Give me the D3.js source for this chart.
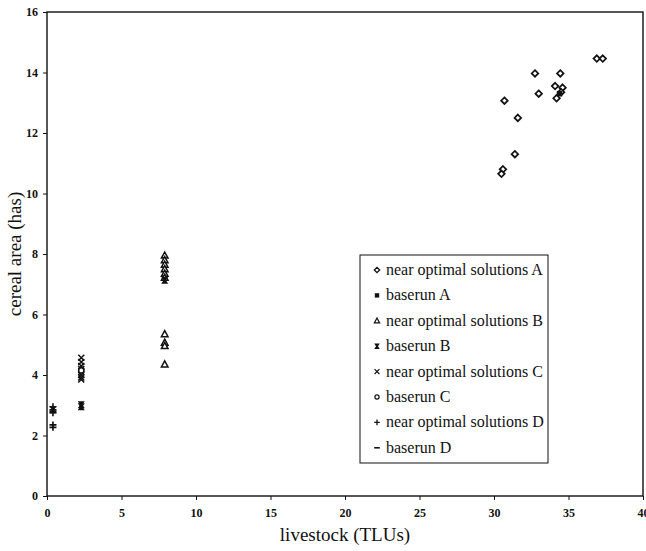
<!DOCTYPE html>
<html>
<head>
<meta charset="utf-8">
<script src="https://cdn.jsdelivr.net/npm/d3@7"></script>
<style>
body{margin:0;background:#fff;}
text{font-family:"Liberation Serif","DejaVu Serif",serif;fill:#111;}
</style>
</head>
<body>
<svg id="svgID" width="646" height="551"></svg>
<script>
// near optimal solutions and baseruns, [livestock, cereal area]
var nearA=[[36.9,14.46],[37.3,14.46],[32.75,13.97],[34.45,13.97],[34.1,13.55],[34.6,13.5],
    [33.0,13.3],[34.2,13.15],[34.5,13.35],[30.7,13.07],[31.6,12.5],[31.4,11.3],[30.6,10.8],[30.5,10.65]];
var baseA=[[34.4,13.3]];
var nearB=[[7.9,7.95],[7.9,7.8],[7.9,7.65],[7.9,7.5],[7.9,7.35],[7.9,7.22],[7.9,5.35],[7.9,5.07],[7.9,4.96],[7.9,4.35]];
var baseB=[[7.9,7.13],[2.3,2.95],[2.3,3.02],[0.4,2.85]];
var nearC=[[2.3,4.57],[2.3,4.43],[2.3,4.3],[2.3,4.2],[2.3,4.1],[2.3,4.0],[2.3,3.92],[2.3,3.85]];
var baseC=[[2.3,4.15]];
var nearD=[[0.4,2.95],[0.4,2.85],[0.4,2.75],[0.4,2.35],[0.4,2.27]];
var baseD=[[0.4,2.8]];

var xTicks=[0,5,10,15,20,25,30,35,40];
var yTicks=[0,2,4,6,8,10,12,14,16];
var legendLabels=["near optimal solutions A","baserun A","near optimal solutions B","baserun B",
    "near optimal solutions C","baserun C","near optimal solutions D","baserun D"];

var svg=d3.select("#svgID");
var pLeft=47, pRight=643, pTop=12, pBottom=496;

var x=d3.scaleLinear().domain([0,40]).range([pLeft,pRight]);
var y=d3.scaleLinear().domain([0,16]).range([pBottom,pTop]);

// frame
svg.append("rect")
    .attr("x",pLeft).attr("y",pTop)
    .attr("width",pRight-pLeft).attr("height",pBottom-pTop)
    .attr("fill","none").attr("stroke","#111").attr("stroke-width",1.4);

var xAxis=svg.append("g")
    .attr("transform","translate(0,"+pBottom+")")
    .call(d3.axisBottom(x).tickValues(xTicks).tickSize(4).tickPadding(8));
var yAxis=svg.append("g")
    .attr("transform","translate("+pLeft+",0)")
    .call(d3.axisLeft(y).tickValues(yTicks).tickSize(4).tickPadding(5));

[xAxis,yAxis].forEach(function(a){
    a.select(".domain").remove();
    a.selectAll("line").attr("stroke","#111");
    a.selectAll("text").attr("font-family","Liberation Serif").attr("font-size",12)
        .attr("font-weight","bold").attr("fill","#111");
});

svg.append("text")
    .attr("x",(pLeft+pRight)/2).attr("y",541)
    .attr("text-anchor","middle").attr("font-size",19)
    .text("livestock (TLUs)");
svg.append("text")
    .attr("transform","translate(21,"+(pTop+pBottom)/2+") rotate(-90)")
    .attr("text-anchor","middle").attr("font-size",19)
    .text("cereal area (has)");

// marker drawers
function drawMarker(g,kind){
    if(kind=="diamond"){
        g.append("path").attr("d","M0,-3.3L3.3,0L0,3.3L-3.3,0Z")
            .attr("fill","#fff").attr("stroke","#111").attr("stroke-width",1.7);
    } else if(kind=="square"){
        g.append("path").attr("d",d3.symbol().type(d3.symbolSquare).size(30)())
            .attr("fill","#111");
    } else if(kind=="triangle"){
        g.append("path").attr("d","M0,-3.5L3.3,2.6L-3.3,2.6Z")
            .attr("fill","#fff").attr("stroke","#111").attr("stroke-width",1.5);
    } else if(kind=="bowtie"){
        g.append("path").attr("d","M-3.5,-3.5L3.5,-3.5L1.2,0L3.5,3.5L-3.5,3.5L-1.2,0Z").attr("fill","#111");
    } else if(kind=="cross"){
        g.append("path").attr("d","M-3,-3L3,3M-3,3L3,-3")
            .attr("fill","none").attr("stroke","#111").attr("stroke-width",1.5);
    } else if(kind=="circle"){
        g.append("circle").attr("r",2.6).attr("fill","#fff").attr("stroke","#111").attr("stroke-width",1.5);
    } else if(kind=="plus"){
        g.append("path").attr("d","M-3.5,0L3.5,0M0,-3.5L0,3.5")
            .attr("fill","none").attr("stroke","#111").attr("stroke-width",1.6);
    } else if(kind=="dash"){
        g.append("path").attr("d","M-3.5,0L3.5,0")
            .attr("fill","none").attr("stroke","#111").attr("stroke-width",2);
    }
}

var series=[
    {data:nearA,kind:"diamond"},{data:baseA,kind:"square"},
    {data:nearB,kind:"triangle"},{data:baseB,kind:"bowtie"},
    {data:nearC,kind:"cross"},{data:baseC,kind:"circle"},
    {data:nearD,kind:"plus"},{data:baseD,kind:"dash"}
];

series.forEach(function(s){
    s.data.forEach(function(d){
        var g=svg.append("g").attr("transform","translate("+x(d[0])+","+y(d[1])+")");
        drawMarker(g,s.kind);
    });
});

// legend
var lg=svg.append("g").attr("transform","translate(360,255)");
lg.append("rect").attr("width",188).attr("height",208)
    .attr("fill","#fff").attr("stroke","#111").attr("stroke-width",1);
legendLabels.forEach(function(lab,i){
    var row=lg.append("g").attr("transform","translate(0,"+(15+i*25.4)+")");
    var m=row.append("g").attr("transform","translate(17,0) scale(0.8)");
    drawMarker(m,series[i].kind);
    row.append("text").attr("x",26).attr("y",5).attr("font-size",16).text(lab);
});
</script>
</body>
</html>
